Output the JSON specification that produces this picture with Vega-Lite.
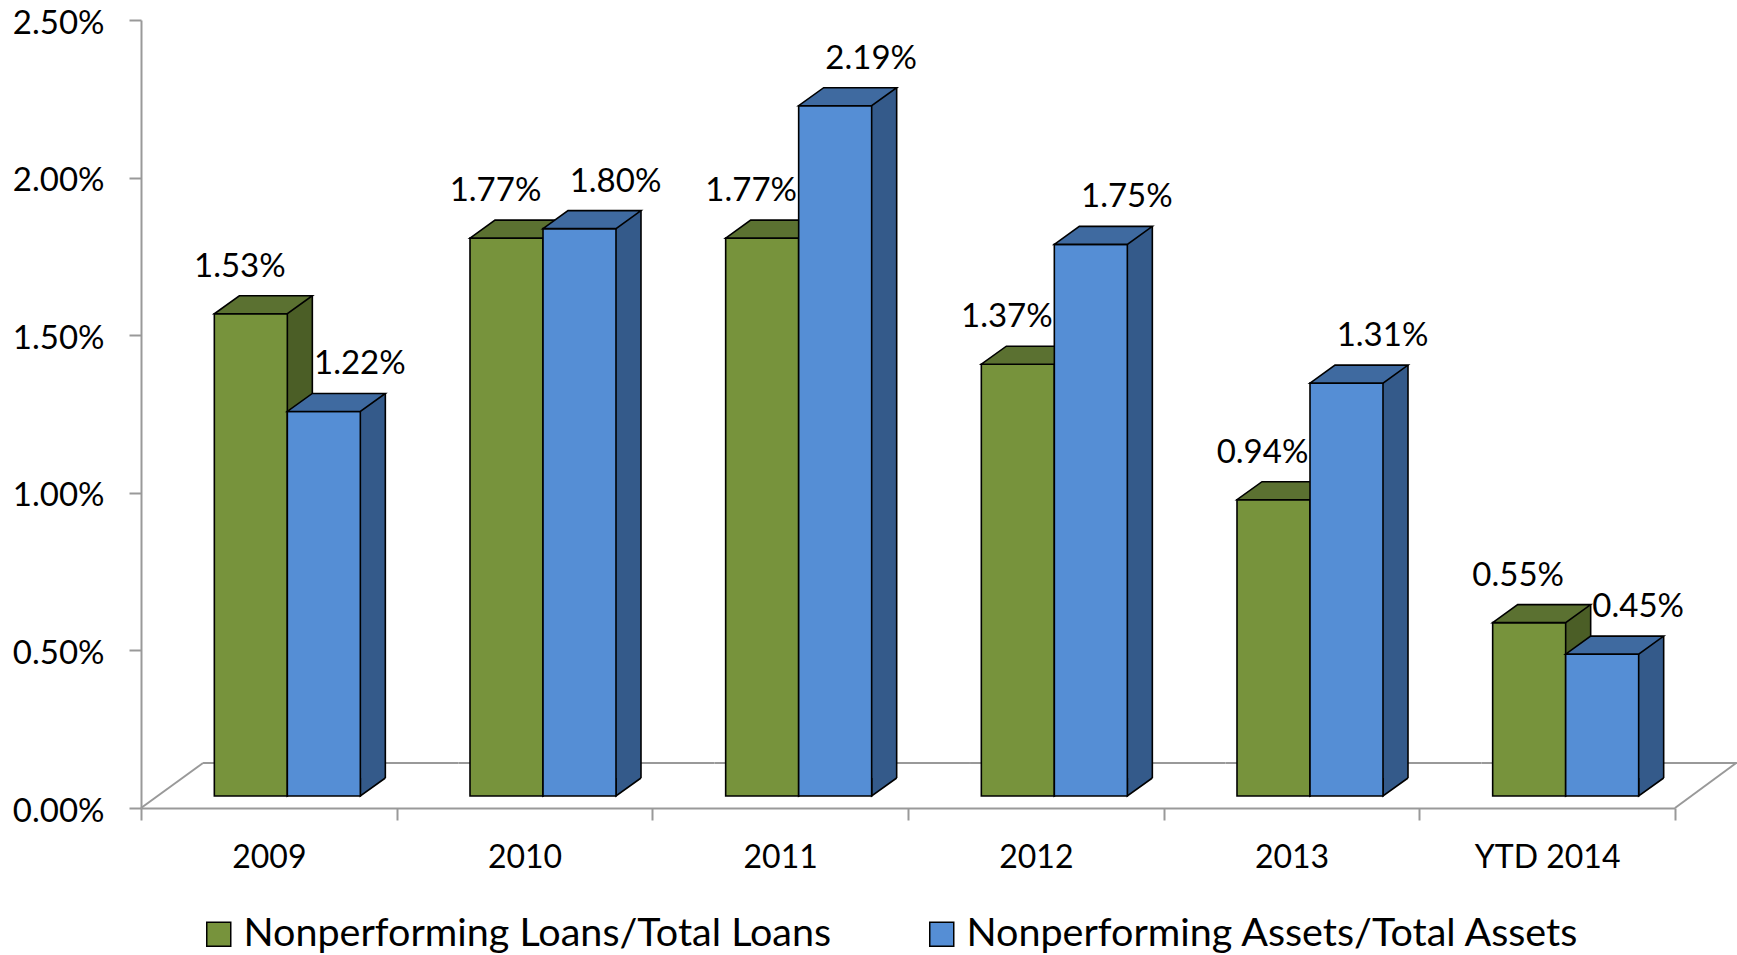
{
  "$schema": "https://vega.github.io/schema/vega-lite/v6.json",
  "width": 1534,
  "height": 788,
  "autosize": {"type": "none"},
  "padding": {"left": 141, "top": 20, "right": 62, "bottom": 147},
  "background": "white",
  "config": {"view": {"stroke": null}, "font": "Lato"},
  "data": {"values": [
    {"year": "2009", "series": "Nonperforming Loans/Total Loans", "value": 0.0153},
    {"year": "2009", "series": "Nonperforming Assets/Total Assets", "value": 0.0122},
    {"year": "2010", "series": "Nonperforming Loans/Total Loans", "value": 0.0177},
    {"year": "2010", "series": "Nonperforming Assets/Total Assets", "value": 0.0180},
    {"year": "2011", "series": "Nonperforming Loans/Total Loans", "value": 0.0177},
    {"year": "2011", "series": "Nonperforming Assets/Total Assets", "value": 0.0219},
    {"year": "2012", "series": "Nonperforming Loans/Total Loans", "value": 0.0137},
    {"year": "2012", "series": "Nonperforming Assets/Total Assets", "value": 0.0175},
    {"year": "2013", "series": "Nonperforming Loans/Total Loans", "value": 0.0094},
    {"year": "2013", "series": "Nonperforming Assets/Total Assets", "value": 0.0131},
    {"year": "YTD 2014", "series": "Nonperforming Loans/Total Loans", "value": 0.0055},
    {"year": "YTD 2014", "series": "Nonperforming Assets/Total Assets", "value": 0.0045}
  ]},
  "encoding": {
    "x": {"field": "year", "type": "nominal",
      "scale": {"domain": ["2009", "2010", "2011", "2012", "2013", "YTD 2014"], "paddingInner": 0, "paddingOuter": 0},
      "axis": {"title": null, "tickBand": "extent", "labelAngle": 0, "domainColor": "#999999", "domainWidth": 2, "tickColor": "#999999", "tickWidth": 2, "tickSize": 12, "labelFont": "Lato", "labelFontSize": 32, "labelColor": "black", "labelPadding": 22}},
    "y": {"field": "value", "type": "quantitative",
      "scale": {"domain": [0, 0.025], "nice": false},
      "axis": {"title": null, "values": [0, 0.005, 0.01, 0.015, 0.02, 0.025], "format": ".2%", "grid": false, "domainColor": "#999999", "domainWidth": 2, "tickColor": "#999999", "tickWidth": 2, "tickSize": 12, "labelFont": "Lato", "labelFontSize": 33, "labelColor": "black", "labelPadding": 25, "labelOffset": 3}}
  },
  "layer": [
    {"transform": [{"filter": "datum.series == 'Nonperforming Loans/Total Loans'"}],
     "mark": {"type": "rule", "color": "#999999", "strokeWidth": 2, "xOffset": -65.8, "x2Offset": 189.8, "yOffset": -45, "y2Offset": -45},
     "encoding": {"x2": {"field": "year"}, "y": {"datum": 0}, "y2": {"datum": 0}}},
    {"transform": [{"filter": "datum.series == 'Nonperforming Loans/Total Loans' && datum.year == '2009'"}],
     "mark": {"type": "rule", "color": "#999999", "strokeWidth": 2, "xOffset": -127.8, "x2Offset": -65.8, "y2Offset": -45},
     "encoding": {"x2": {"field": "year"}, "y": {"datum": 0}, "y2": {"datum": 0}}},
    {"transform": [{"filter": "datum.series == 'Nonperforming Loans/Total Loans' && datum.year == 'YTD 2014'"}],
     "mark": {"type": "rule", "color": "#999999", "strokeWidth": 2, "xOffset": 127.8, "x2Offset": 189, "y2Offset": -45},
     "encoding": {"x2": {"field": "year"}, "y": {"datum": 0}, "y2": {"datum": 0}}},

    {"transform": [{"filter": "datum.series == 'Nonperforming Loans/Total Loans'"}],
     "mark": {"type": "bar", "width": 73, "fill": "#4b5e26", "xOffset": 7, "yOffset": -30, "y2Offset": -30},
     "encoding": {"y2": {"datum": 0}}},
    {"transform": [{"filter": "datum.series == 'Nonperforming Loans/Total Loans'"}],
     "mark": {"type": "bar", "width": 1.6, "fill": "black", "xOffset": 43.5, "yOffset": -30, "y2Offset": -30},
     "encoding": {"y2": {"datum": 0}}},
    {"transform": [{"filter": "datum.series == 'Nonperforming Loans/Total Loans'"}],
     "mark": {"type": "point", "shape": "M61.5,-18L36.5,0L36.5,-18", "size": 4, "filled": true, "opacity": 1, "fill": "#4b5e26", "stroke": "black", "strokeWidth": 1.6, "xOffset": -18, "yOffset": -12},
     "encoding": {"y": {"datum": 0}}},
    {"transform": [{"filter": "datum.series == 'Nonperforming Loans/Total Loans'"}],
     "mark": {"type": "bar", "width": 73, "stroke": "black", "strokeWidth": 1.6, "xOffset": -18, "yOffset": -12, "y2Offset": -12},
     "encoding": {"y2": {"datum": 0},
       "color": {"field": "series", "type": "nominal",
         "scale": {"domain": ["Nonperforming Loans/Total Loans", "Nonperforming Assets/Total Assets"], "range": ["#77933c", "#558ed5"]},
         "legend": {"title": null, "orient": "none", "legendX": 58, "legendY": 894, "direction": "horizontal", "padding": 0, "labelFont": "Lato", "labelFontSize": 39.5, "labelColor": "black", "labelLimit": 0, "symbolType": "square", "symbolSize": 576, "symbolStrokeColor": "black", "symbolStrokeWidth": 1.5, "symbolOpacity": 1, "labelOffset": 5, "columnPadding": 90}}}},
    {"transform": [{"filter": "datum.series == 'Nonperforming Loans/Total Loans'"}],
     "mark": {"type": "point", "shape": "M-36.5,0L36.5,0L61.5,-18L-11.5,-18Z", "size": 4, "filled": true, "opacity": 1, "fill": "#5b7131", "stroke": "black", "strokeWidth": 1.6, "xOffset": -18, "yOffset": -12}},

    {"transform": [{"filter": "datum.series == 'Nonperforming Assets/Total Assets'"}],
     "mark": {"type": "bar", "width": 73, "fill": "#345a8a", "xOffset": 80, "yOffset": -30, "y2Offset": -30},
     "encoding": {"y2": {"datum": 0}}},
    {"transform": [{"filter": "datum.series == 'Nonperforming Assets/Total Assets'"}],
     "mark": {"type": "bar", "width": 1.6, "fill": "black", "xOffset": 116.5, "yOffset": -30, "y2Offset": -30},
     "encoding": {"y2": {"datum": 0}}},
    {"transform": [{"filter": "datum.series == 'Nonperforming Assets/Total Assets'"}],
     "mark": {"type": "point", "shape": "M61.5,-18L36.5,0L36.5,-18", "size": 4, "filled": true, "opacity": 1, "fill": "#345a8a", "stroke": "black", "strokeWidth": 1.6, "xOffset": 55, "yOffset": -12},
     "encoding": {"y": {"datum": 0}}},
    {"transform": [{"filter": "datum.series == 'Nonperforming Assets/Total Assets'"}],
     "mark": {"type": "bar", "width": 73, "stroke": "black", "strokeWidth": 1.6, "xOffset": 55, "yOffset": -12, "y2Offset": -12},
     "encoding": {"y2": {"datum": 0},
       "color": {"field": "series", "type": "nominal",
         "scale": {"domain": ["Nonperforming Loans/Total Loans", "Nonperforming Assets/Total Assets"], "range": ["#77933c", "#558ed5"]}}}},
    {"transform": [{"filter": "datum.series == 'Nonperforming Assets/Total Assets'"}],
     "mark": {"type": "point", "shape": "M-36.5,0L36.5,0L61.5,-18L-11.5,-18Z", "size": 4, "filled": true, "opacity": 1, "fill": "#3f6aa0", "stroke": "black", "strokeWidth": 1.6, "xOffset": 55, "yOffset": -12}},

    {"transform": [{"filter": "datum.series == 'Nonperforming Loans/Total Loans'"}],
     "mark": {"type": "text", "font": "Lato", "fontSize": 33, "color": "black", "align": "center", "baseline": "middle", "xOffset": -29, "yOffset": -59},
     "encoding": {"text": {"field": "value", "format": ".2%"}}},
    {"transform": [{"filter": "datum.series == 'Nonperforming Assets/Total Assets'"}],
     "mark": {"type": "text", "font": "Lato", "fontSize": 33, "color": "black", "align": "center", "baseline": "middle", "xOffset": 91, "yOffset": -59},
     "encoding": {"text": {"field": "value", "format": ".2%"}}}
  ]
}
